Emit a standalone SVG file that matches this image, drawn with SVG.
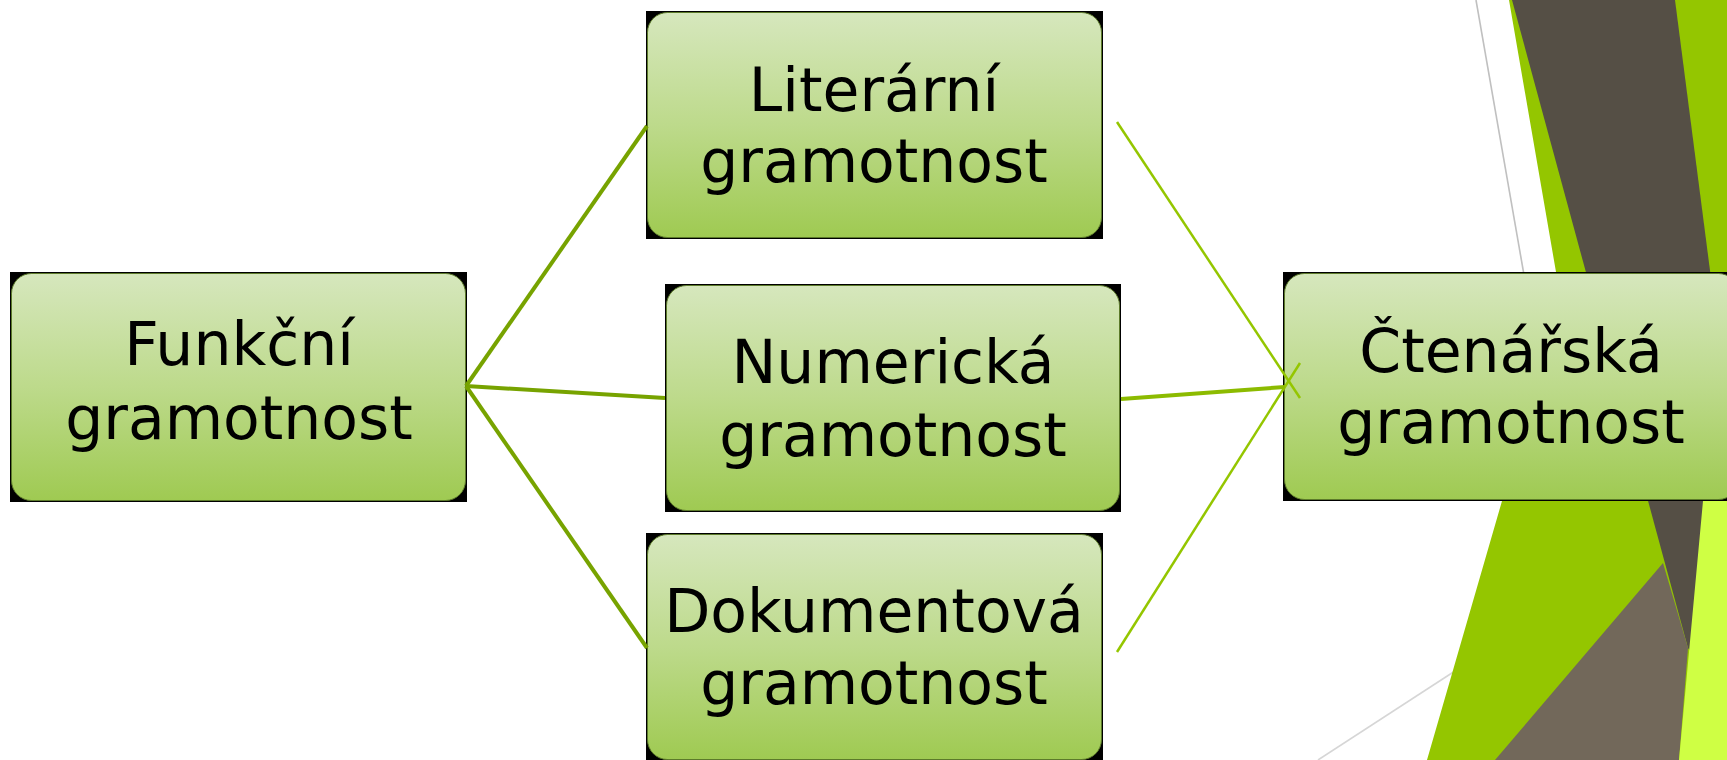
<svg xmlns="http://www.w3.org/2000/svg" width="1727" height="760" viewBox="0 0 1727 760">
  <defs>
    <linearGradient id="boxFill" x1="0" y1="0" x2="0" y2="1">
      <stop offset="0" stop-color="#d6e7bd"/>
      <stop offset="0.5" stop-color="#bdda8b"/>
      <stop offset="1" stop-color="#9fca52"/>
    </linearGradient>
  </defs>
  <style>
    .frame { fill: #000000; }
    .box { fill: url(#boxFill); stroke: #5c7a2a; stroke-width: 1; }
    .label { font-family: "DejaVu Sans", "Liberation Sans", sans-serif; font-size: 60px; fill: #000000; text-anchor: middle; }
    .link-left { stroke: #77a300; stroke-width: 4; fill: none; }
    .link-right { stroke: #94c600; stroke-width: 2.5; fill: none; }
    .link-right-mid { stroke: #8cbb00; stroke-width: 4; fill: none; }
  </style>

  <rect width="1727" height="760" fill="#ffffff"/>

  <!-- decorative facets on the right edge -->
  <g id="backdrop">
    <line x1="1476" y1="0" x2="1524" y2="275" stroke="#c0c0c0" stroke-width="1.6"/>
    <line x1="1318" y1="760" x2="1455" y2="671" stroke="#d6d6d6" stroke-width="1.6"/>
    <polygon points="1509,0 1727,0 1727,760 1427,760 1502,501 1530,400 1556,272" fill="#94c600"/>
    <polygon points="1512,0 1675,0 1727,402 1727,700 1688,648" fill="#554f45"/>
    <polygon points="1663,563 1688,648 1679,760 1495,760" fill="#72685a"/>
    <polygon points="1724,272 1727,272 1727,760 1679,760 1703,501" fill="#cfff44"/>
  </g>

  <g id="funkcni">
    <rect class="frame" x="10" y="272" width="457" height="230"/>
    <rect class="box" x="11.5" y="273.5" width="454" height="227" rx="20"/>
    <text class="label" x="239" y="365">Funkční</text>
    <text class="label" x="239" y="439">gramotnost</text>
  </g>

  <g id="literarni">
    <rect class="frame" x="646" y="11" width="457" height="228"/>
    <rect class="box" x="647.5" y="12.5" width="454" height="225" rx="20"/>
    <text class="label" x="874" y="111">Literární</text>
    <text class="label" x="874" y="182">gramotnost</text>
  </g>

  <g id="numericka">
    <rect class="frame" x="665" y="284" width="456" height="228"/>
    <rect class="box" x="666.5" y="285.5" width="453" height="225" rx="20"/>
    <text class="label" x="893" y="383">Numerická</text>
    <text class="label" x="893" y="456">gramotnost</text>
  </g>

  <g id="dokumentova">
    <rect class="frame" x="646" y="533" width="457" height="228"/>
    <rect class="box" x="647.5" y="534.5" width="454" height="225" rx="20"/>
    <text class="label" x="874" y="632">Dokumentová</text>
    <text class="label" x="874" y="704">gramotnost</text>
  </g>

  <g id="ctenarska">
    <rect class="frame" x="1283" y="272" width="457" height="229"/>
    <rect class="box" x="1284.5" y="273.5" width="454" height="226" rx="20"/>
    <text class="label" x="1511" y="372">Čtenářská</text>
    <text class="label" x="1511" y="443">gramotnost</text>
  </g>

  <!-- connectors, drawn over the box edges -->
  <g id="connectors">
    <line class="link-left" x1="466" y1="386" x2="647" y2="126"/>
    <line class="link-left" x1="466" y1="386" x2="665" y2="398"/>
    <line class="link-left" x1="466" y1="386" x2="647" y2="648"/>
    <line class="link-right" x1="1117" y1="122" x2="1300" y2="398"/>
    <line class="link-right" x1="1117" y1="652" x2="1300" y2="363"/>
    <line class="link-right-mid" x1="1121" y1="399" x2="1285" y2="387"/>
  </g>
</svg>
